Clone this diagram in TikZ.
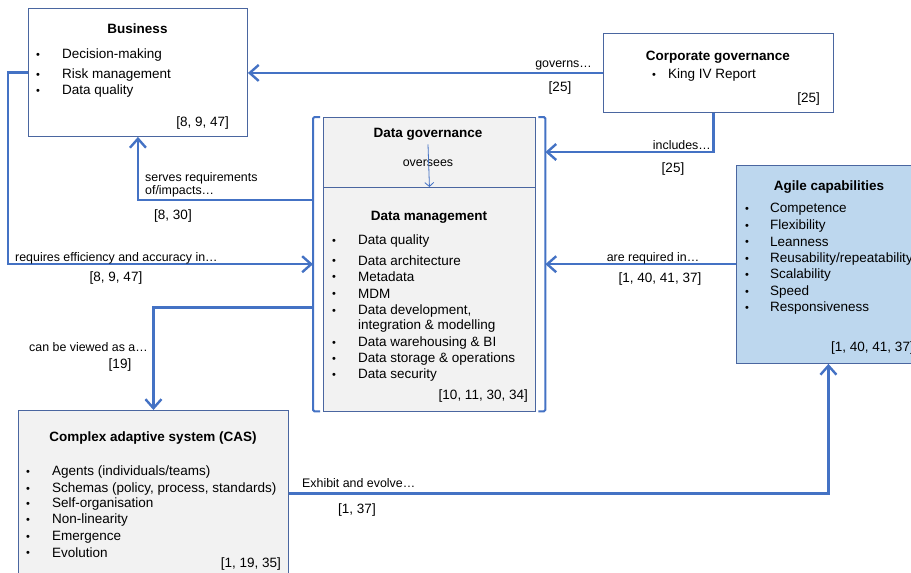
\documentclass[tikz,border=0pt]{standalone}
\usepackage{fontspec}
\setmainfont{Liberation Sans}
\usepackage{xcolor}
\usepackage{tikz}
\usetikzlibrary{arrows.meta,positioning}
\definecolor{linkblue}{HTML}{4472C4}
\definecolor{frameblue}{HTML}{4A66A0}
\definecolor{softgray}{HTML}{F2F2F2}
\definecolor{agileblue}{HTML}{BDD7EE}

\begin{document}
\begin{tikzpicture}[
  x=1pt,y=-1pt,
  box/.style={draw=frameblue,line width=0.9pt,fill=white,anchor=north west,inner sep=0pt},
  graybox/.style={box,fill=softgray},
  agilebox/.style={box,fill=agileblue},
  head/.style={font=\fontsize{13.5}{16}\selectfont\bfseries,inner sep=0pt,yshift=-1pt},
  entry/.style={font=\fontsize{13.5}{16}\selectfont,anchor=west,inner sep=0pt,yshift=-2pt},
  dot/.style={font=\fontsize{11}{13}\selectfont,inner sep=0pt,yshift=-2.5pt},
  ref/.style={font=\fontsize{13.5}{15}\selectfont,inner sep=0pt,yshift=-1pt},
  tag/.style={font=\fontsize{12.4}{13}\selectfont,inner sep=0pt,yshift=-1pt},
  line/.style={-{Straight Barb[length=9pt,width=16pt]},line width=2.4pt,draw=linkblue},
  thinline/.style={-{Straight Barb[length=4pt,width=9pt]},line width=0.8pt,draw=linkblue},
  bracket/.style={line width=2pt,draw=linkblue,rounded corners=1.5pt}
]
\useasboundingbox (0,0) rectangle (911,573);
% boxes
\node[box,minimum width=219,minimum height=128] (business) at (28,8) {};
\node[box,minimum width=230,minimum height=79] (corp) at (603,33) {};
\node[minimum width=232,minimum height=294,anchor=north west,inner sep=0pt] (grp) at (313,117) {};
\node[graybox,minimum width=212,minimum height=70] (dgov) at (323,117) {};
\node[graybox,minimum width=212,minimum height=224] (dmgmt) at (323,187) {};
\node[agilebox,minimum width=184,minimum height=198] (agile) at (736,165) {};
\node[graybox,minimum width=270,minimum height=166] (cas) at (18,410) {};
\draw[bracket] ([xshift=7]grp.north west) -- (grp.north west) -- (grp.south west) -- ([xshift=7]grp.south west);
\draw[bracket] ([xshift=-7]grp.north east) -- (grp.north east) -- (grp.south east) -- ([xshift=-7]grp.south east);

% business
\node[head] (businesshead) at (137.5,28) {Business};
\foreach \yy/\txt [count=\i] in {53/Decision-making,73/Risk management,89/Data quality}{
  \node[dot] (bdot\i) at (38,\yy) {\textbullet};
  \node[entry] (bitem\i) at (62,\yy) {\txt};
}
\node[ref,anchor=east] (businessref) at (229,122) {[8, 9, 47]};

% corporate governance
\node[head] (corphead) at (718,56) {Corporate governance};
\node[dot] (cdot) at (654,73) {\textbullet};
\node[entry] (citem) at (668,73) {King IV Report};
\node[ref,anchor=east] (corpref) at (820,98) {[25]};

% data governance / management
\node[head] (dgovhead) at (428,133) {Data governance};
\node[tag] (oversees) at (428,162) {oversees};
\draw[thinline] ([yshift=-4]dgovhead.south) -- (dmgmt.north);
\node[head] (dmhead) at (429,216) {Data management};
\foreach \yy/\txt [count=\i] in {239/Data quality,259/Data architecture,275/Metadata,292/MDM,
    309/{Data development,},341/Data warehousing \& BI,357/Data storage \& operations,373/Data security}{
  \node[dot] (ddot\i) at (334,\yy) {\textbullet};
  \node[entry] (ditem\i) at (358,\yy) {\txt};
}
\node[entry] (ditemcont) at (358,324) {integration \& modelling};
\node[ref,anchor=east] (dmref) at (528,395) {[10, 11, 30, 34]};

% agile capabilities
\node[head] (agilehead) at (829,186) {Agile capabilities};
\foreach \yy/\txt [count=\i] in {207/Competence,224/Flexibility,240/Leanness,257/{Reusability/repeatability},
    273/Scalability,290/Speed,306/Responsiveness}{
  \node[dot] (adot\i) at (747,\yy) {\textbullet};
  \node[entry] (aitem\i) at (770,\yy) {\txt};
}
\node[ref,anchor=west] (agileref) at (831,347) {[1, 40, 41, 37]};

% complex adaptive system
\node[head] (cashead) at (153,437) {Complex adaptive system (CAS)};
\foreach \yy/\txt [count=\i] in {470/{Agents (individuals/teams)},487/{Schemas (policy, process, standards)},
    502/Self-organisation,518/Non-linearity,535/Emergence,551/Evolution}{
  \node[dot] (sdot\i) at (28,\yy) {\textbullet};
  \node[entry] (sitem\i) at (52,\yy) {\txt};
}
\node[ref,anchor=east] (casref) at (281,563) {[1, 19, 35]};

% connectors
\draw[line] (corp.west) -- (corp.west -| business.east);
\draw[line] ([xshift=-5]corp.south) |- ([yshift=-35]grp.north east);
\draw[line] (agile.west |- grp.east) -- (grp.east);
\draw[line] ([yshift=-83]grp.north west) -| (business.south);
\draw[line] (business.west) -- ++(-20,0) |- (grp.west);
\draw[line] ([yshift=104]grp.south west) -| (cas.north);
\draw[line] (cas.east) -| (agile.south);

% connector labels
\node[tag,anchor=east] (governs) at (592,64) {governs…};
\node[ref] (governsref) at (560,87) {[25]};
\node[tag,anchor=east] (includes) at (711,144) {includes…};
\node[ref] (includesref) at (673,168) {[25]};
\node[tag] (required) at (653,257) {are required in…};
\node[ref] (requiredref) at (660,278) {[1, 40, 41, 37]};
\node[tag,anchor=west,align=left] (serves) at (145,183.5) {serves requirements\\of/impacts…};
\node[ref] (servesref) at (173,215) {[8, 30]};
\node[tag,anchor=west] (requires) at (15,257) {requires efficiency and accuracy in…};
\node[ref] (requiresref) at (116,277) {[8, 9, 47]};
\node[tag,anchor=east] (viewed) at (148,346) {can be viewed as a…};
\node[ref] (viewedref) at (120,364) {[19]};
\node[tag,anchor=west] (exhibit) at (302,482) {Exhibit and evolve…};
\node[ref] (exhibitref) at (357,509) {[1, 37]};
\end{tikzpicture}
\end{document}
